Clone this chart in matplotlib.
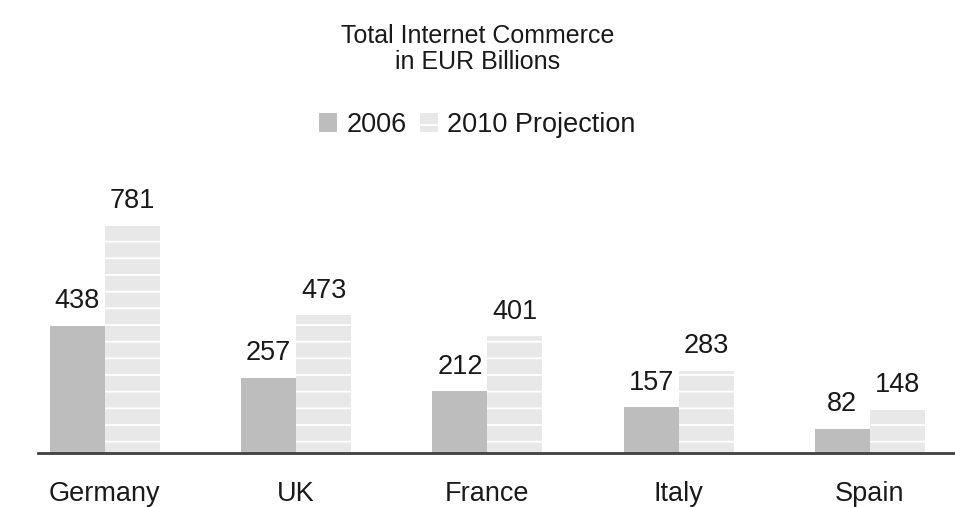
import matplotlib
matplotlib.use("Agg")
import matplotlib.pyplot as plt
import numpy as np

categories = ["Germany", "UK", "France", "Italy", "Spain"]
values_2006 = [438, 257, 212, 157, 82]
values_2010 = [781, 473, 401, 283, 148]
series_names = ["2006", "2010 Projection"]
title = "Total Internet Commerce\nin EUR Billions"

plt.rcParams['font.family'] = ['Liberation Sans', 'DejaVu Sans']
plt.rcParams['hatch.linewidth'] = 1.3

fig = plt.figure(figsize=(9.55, 5.07), dpi=100)
ax = fig.add_axes([38/955, 1 - 453/507, 1 - 38/955, (453 - 150)/507])

x = np.arange(len(categories))
w = 0.288
c1 = "#bdbdbd"
c2 = "#e8e8e8"
tc = "#1a1a1a"
b1 = ax.bar(x - w/2, values_2006, w, color=c1, linewidth=0, label=series_names[0])
b2 = ax.bar(x + w/2, values_2010, w, color=c2, edgecolor="white", linewidth=0,
            hatch="-", label=series_names[1])

for bars in (b1, b2):
    for r in bars:
        ax.annotate(f"{int(r.get_height())}", (r.get_x() + r.get_width()/2, r.get_height()),
                    xytext=(0, 8.5), textcoords="offset points", ha="center", va="bottom",
                    fontsize=19.5, color=tc)

ax.set_xlim(-0.35, 4.445)
ax.set_ylim(0, 1042)
ax.set_xticks(x)
ax.set_xticklabels(categories, fontsize=19.5, color=tc)
ax.tick_params(axis="x", length=0, pad=20.5)
ax.set_yticks([])
for s in ("top", "right", "left"):
    ax.spines[s].set_visible(False)
ax.spines["bottom"].set_color("#404040")
ax.spines["bottom"].set_linewidth(2)

fig.text(0.5, 1 - 49/507, title, ha="center", va="center", fontsize=18, color=tc,
         linespacing=1.1)
leg = fig.legend(handles=[b1, b2], loc="center", bbox_to_anchor=(0.5, 1 - 125/507),
                 ncol=2, frameon=False, fontsize=19.5, handlelength=0.65, handleheight=0.65,
                 handletextpad=0.35, columnspacing=0.5, labelcolor=tc)

fig.savefig("out.png", dpi=100)
